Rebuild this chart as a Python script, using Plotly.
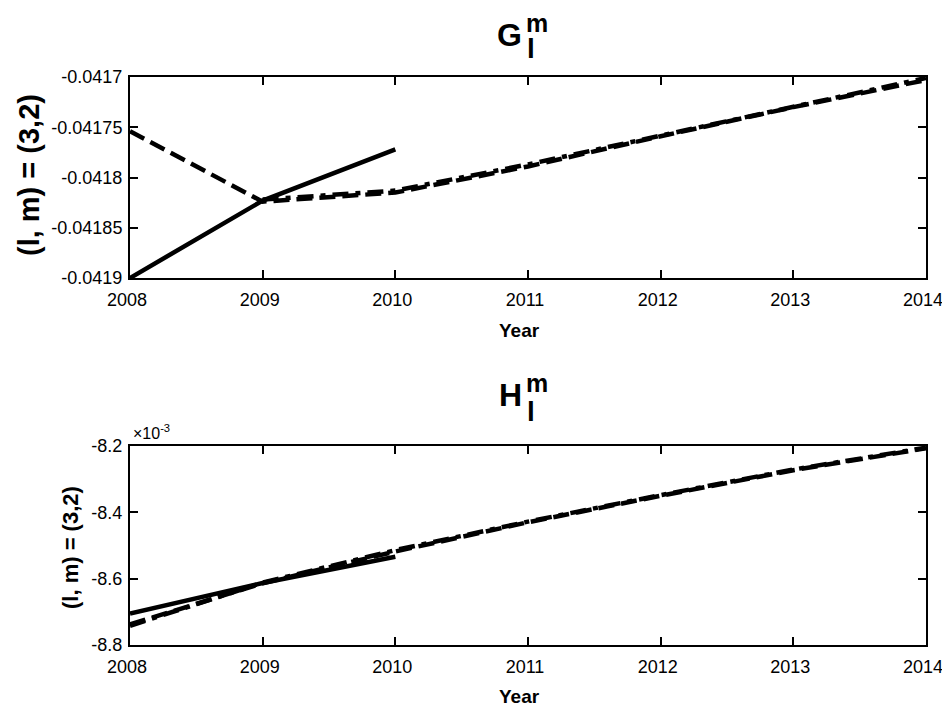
import plotly.graph_objects as go

# page body has an 8px margin; size the figure so it fits the 950x716 window
OFF = 8
W, H = 950 - 2 * OFF, 716 - 2 * OFF

years_short = [2008, 2009, 2010]
years_long = [2008, 2009, 2010, 2011, 2012, 2013, 2014]
years_mid = [2009, 2010, 2011, 2012, 2013, 2014]

# G_l^m, (l,m)=(3,2)
g_solid = [-0.04190, -0.041823, -0.041772]
g_dashed = [-0.041754, -0.041824, -0.041815, -0.041789, -0.041759, -0.041730, -0.041703]
g_dashdot = [-0.041822, -0.041813, -0.041787, -0.041758, -0.041729, -0.041701]

# H_l^m, (l,m)=(3,2), in units of 1e-3
h_solid = [-8.705, -8.613, -8.534]
h_dashed = [-8.738, -8.614, -8.518, -8.430, -8.350, -8.273, -8.207]
h_dashdot = [-8.742, -8.612, -8.514, -8.428, -8.348, -8.271, -8.205]

g_ticks = [-0.0419, -0.04185, -0.0418, -0.04175, -0.0417]
g_ticktext = ["-0.0419", "-0.04185", "-0.0418", "-0.04175", "-0.0417"]
h_ticks = [-8.8, -8.6, -8.4, -8.2]
h_ticktext = ["-8.8", "-8.6", "-8.4", "-8.2"]
x_ticks = [2008, 2009, 2010, 2011, 2012, 2013, 2014]

LW = 4.5
DASH = "16px,7px"
DASHDOT = "16px,7px,5px,7px"

fig = go.Figure()
fig.add_trace(go.Scatter(x=years_short, y=g_solid, mode="lines",
                         line=dict(color="black", width=LW), xaxis="x", yaxis="y"))
fig.add_trace(go.Scatter(x=years_long, y=g_dashed, mode="lines",
                         line=dict(color="black", width=LW, dash=DASH), xaxis="x", yaxis="y"))
fig.add_trace(go.Scatter(x=years_mid, y=g_dashdot, mode="lines",
                         line=dict(color="black", width=LW, dash=DASHDOT), xaxis="x", yaxis="y"))
fig.add_trace(go.Scatter(x=years_short, y=h_solid, mode="lines",
                         line=dict(color="black", width=LW), xaxis="x2", yaxis="y2"))
fig.add_trace(go.Scatter(x=years_long, y=h_dashed, mode="lines",
                         line=dict(color="black", width=LW, dash=DASH), xaxis="x2", yaxis="y2"))
fig.add_trace(go.Scatter(x=years_long, y=h_dashdot, mode="lines",
                         line=dict(color="black", width=LW, dash=DASHDOT), xaxis="x2", yaxis="y2"))


def PX(px):
    return (px - OFF) / W


def PY(py):
    return 1 - (py - OFF) / H


xd = [PX(130), PX(926)]
yd_top = [PY(278), PY(77)]
yd_bot = [PY(645), PY(446)]

FONT = "Liberation Sans, Arial, sans-serif"
tickfont = dict(family=FONT, size=18, color="black")
axis_common = dict(showline=True, linecolor="black", linewidth=2, mirror="allticks",
                   ticks="inside", ticklen=8, tickwidth=2, tickcolor="black",
                   showgrid=False, zeroline=False, tickfont=tickfont, automargin=False,
                   ticklabeloverflow="allow")

fig.update_layout(
    width=W, height=H,
    margin=dict(l=0, r=0, t=0, b=0, pad=0),
    paper_bgcolor="white", plot_bgcolor="white",
    showlegend=False,
    xaxis=dict(domain=xd, anchor="y", range=[2008, 2014], tickvals=x_ticks,
               ticktext=[str(v) for v in x_ticks], ticklabelstandoff=4,
               ticklabelshift=-3, **axis_common),
    yaxis=dict(domain=yd_top, anchor="x", range=[-0.0419, -0.0417], tickvals=g_ticks,
               ticktext=g_ticktext, ticklabelstandoff=2, **axis_common),
    xaxis2=dict(domain=xd, anchor="y2", range=[2008, 2014], tickvals=x_ticks,
                ticktext=[str(v) for v in x_ticks], ticklabelstandoff=4,
                ticklabelshift=-3, **axis_common),
    yaxis2=dict(domain=yd_bot, anchor="x2", range=[-8.8, -8.2], tickvals=h_ticks,
                ticktext=h_ticktext, ticklabelstandoff=2, **axis_common),
)


def ann(text, px, py, size, bold=True, angle=0, xanchor="center", yanchor="middle"):
    t = f"<b>{text}</b>" if bold else text
    fig.add_annotation(text=t, x=PX(px), y=PY(py), xref="paper", yref="paper",
                       showarrow=False, textangle=angle, xanchor=xanchor, yanchor=yanchor,
                       font=dict(family=FONT, size=size, color="black"))


# titles G_l^m and H_l^m
ann("G", 509, 35, 32)
ann("m", 537, 23, 25)
ann("l", 531, 48, 28)
ann("H", 511, 395, 32)
ann("m", 537, 383, 25)
ann("l", 531, 411, 28)

# axis labels
ann("Year", 519, 330, 19)
ann("Year", 519, 696, 19)
ann("(l, m) = (3,2)", 29, 175, 29, angle=-90)
ann("(l, m) = (3,2)", 70, 548, 22, angle=-90)
ann("×10<sup>-3</sup>", 131, 432, 16, bold=False, xanchor="left")

fig.write_html("out.html")
